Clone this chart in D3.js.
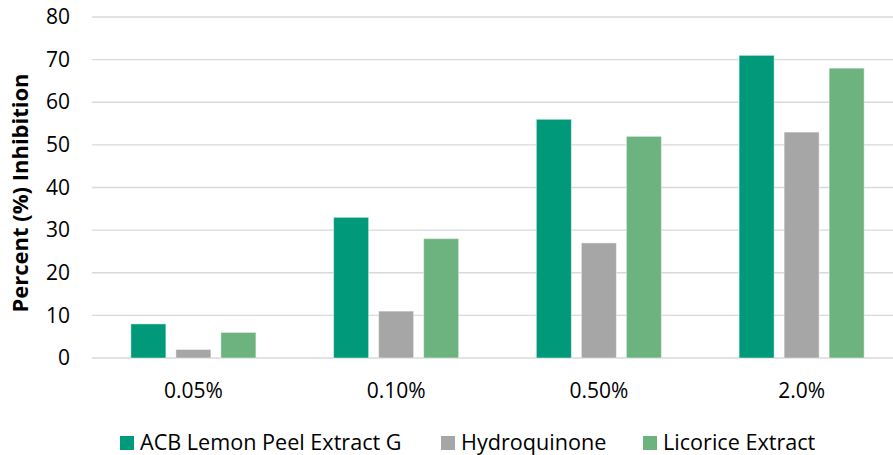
<!DOCTYPE html>
<html>
<head>
<meta charset="utf-8">
<script src="https://cdn.jsdelivr.net/npm/d3@7"></script>
<style>
  body { margin: 0; background: #fff; }
  svg { font-family: "Open Sans", sans-serif; }
</style>
</head>
<body>
<svg id="chart" width="893" height="455"></svg>
<script>
// chart data
const categories = ["0.05%", "0.10%", "0.50%", "2.0%"];
const seriesNames = ["ACB Lemon Peel Extract G", "Hydroquinone", "Licorice Extract"];
const lemonPeel = [8, 33, 56, 71];
const hydroquinone = [2, 11, 27, 53];
const licorice = [6, 28, 52, 68];
const yTicks = [0, 10, 20, 30, 40, 50, 60, 70, 80];
const colors = ["#009979", "#a6a6a6", "#6db37f"];

const seriesValues = [lemonPeel, hydroquinone, licorice];

const svg = d3.select("#chart");
const W = 893;
const margin = { top: 17, left: 92 };
const plotBottom = 358;

const x = d3.scaleBand()
    .domain(categories)
    .range([margin.left, 903]);

const x1 = d3.scaleBand()
    .domain(seriesNames)
    .range([0, x.bandwidth()])
    .paddingInner(0.222)
    .paddingOuter(0.863);

const y = d3.scaleLinear()
    .domain([0, 80])
    .range([plotBottom, margin.top]);

// gridlines
svg.append("g")
    .selectAll("line")
    .data(yTicks)
    .enter().append("line")
    .attr("x1", margin.left)
    .attr("x2", W)
    .attr("y1", d => y(d))
    .attr("y2", d => y(d))
    .attr("stroke", "#d9d9d9")
    .attr("stroke-width", 1.3);

// y axis labels
const yAxis = svg.append("g")
    .attr("transform", `translate(70, 0)`)
    .call(d3.axisLeft(y).tickValues(yTicks).tickSize(0).tickPadding(0));
yAxis.select(".domain").remove();
yAxis.selectAll("text")
    .style("font-size", "21px")
    .style("font-family", "Open Sans, sans-serif")
    .attr("fill", "#000");

// x axis labels
const xAxis = svg.append("g")
    .attr("transform", `translate(0, ${plotBottom})`)
    .call(d3.axisBottom(x).tickSize(0).tickPadding(0));
xAxis.select(".domain").remove();
xAxis.selectAll("text")
    .attr("y", 40)
    .attr("dy", null)
    .style("font-size", "21px")
    .style("font-family", "Open Sans, sans-serif")
    .attr("fill", "#000");

// bars
const groups = svg.append("g")
    .selectAll("g")
    .data(categories)
    .enter().append("g")
    .attr("transform", d => `translate(${x(d)}, 0)`);

groups.selectAll("rect")
    .data((d, i) => seriesNames.map((s, j) => ({ s, j, v: seriesValues[j][i] })))
    .enter().append("rect")
    .attr("x", d => x1(d.s))
    .attr("width", x1.bandwidth())
    .attr("y", d => y(d.v))
    .attr("height", d => plotBottom - y(d.v))
    .attr("fill", (d) => colors[d.j])
    .attr("stroke", "rgba(255,255,255,0.45)")
    .attr("stroke-width", 1);

// y axis title
svg.append("text")
    .attr("transform", "translate(28, 193) rotate(-90)")
    .attr("text-anchor", "middle")
    .style("font-size", "22px")
    .style("font-weight", "bold")
    .text("Percent (%) Inhibition");

// legend
const legendX = [120, 441, 643];
const legend = svg.append("g")
    .selectAll("g")
    .data(seriesNames)
    .enter().append("g")
    .attr("transform", (d, i) => `translate(${legendX[i]}, 436)`);

legend.append("rect")
    .attr("width", 14)
    .attr("height", 14)
    .attr("fill", (d, i) => colors[i]);

legend.append("text")
    .attr("x", 20)
    .attr("y", 14)
    .style("font-size", "21.6px")
    .text(d => d);
</script>
</body>
</html>
